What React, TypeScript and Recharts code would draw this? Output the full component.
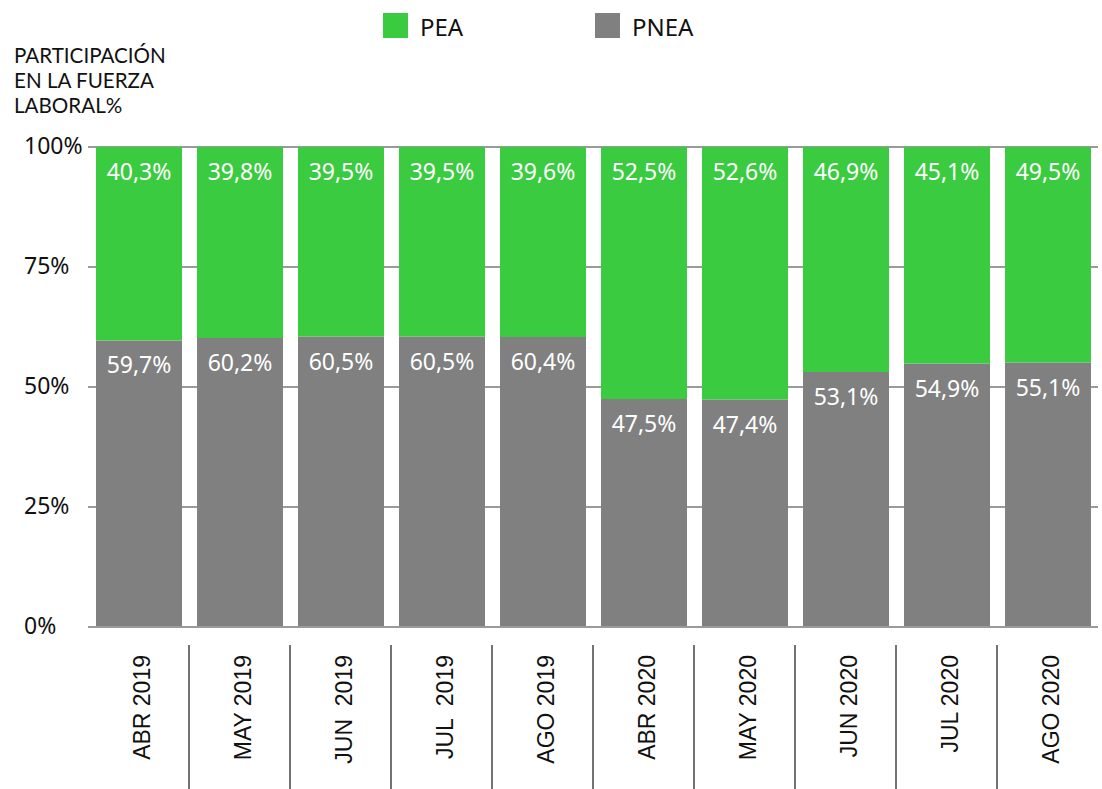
import React from 'react';
import { BarChart, Bar, XAxis, YAxis, CartesianGrid, LabelList, Legend } from 'recharts';

const categories = ['ABR 2019', 'MAY 2019', 'JUN  2019', 'JUL  2019', 'AGO 2019', 'ABR 2020', 'MAY 2020', 'JUN 2020', 'JUL 2020', 'AGO 2020'];
const pneaValues = [59.7, 60.2, 60.5, 60.5, 60.4, 47.5, 47.4, 53.1, 54.9, 55.1];
const peaValues = [40.3, 39.8, 39.5, 39.5, 39.6, 52.5, 52.6, 46.9, 45.1, 49.5];
const yTicks = [0, 25, 50, 75, 100];

const GREEN = '#3BCB41';
const GRAY = '#808080';
const W = 1102;
const H = 789;
const PLOT_TOP = 147;
const LEGEND_H = 50;
const PLOT_LEFT = 88;
const PLOT_RIGHT_MARGIN = 4;
const STEP = (W - PLOT_LEFT - PLOT_RIGHT_MARGIN) / categories.length;
const FONT = '"Noto Sans", sans-serif';

const data = categories.map((c, i) => ({ cat: c, pnea: pneaValues[i], pea: peaValues[i] }));

const fmt = (v: number) => v.toFixed(1).replace('.', ',') + '%';

const YTick = (props: any) => {
  const { y, payload } = props;
  return (
    <text x={24} y={y} dy="0.3em" fontSize={23} fontFamily={FONT} fill="#111">
      {payload.value}%
    </text>
  );
};

const XTick = (props: any) => {
  const { x, payload, index } = props;
  return (
    <g>
      <text
        transform={`translate(${x + 11},655) rotate(-90)`}
        textAnchor="end"
        fontSize={23}
        fontFamily='"Liberation Sans", Arial, sans-serif'
        fill="#111"
        style={{ whiteSpace: 'pre' }}
      >
        {payload.value}
      </text>
      {index < categories.length - 1 && (
        <line x1={x + STEP / 2} x2={x + STEP / 2} y1={645} y2={H} stroke="#444" strokeWidth={1.5} />
      )}
    </g>
  );
};

const BarLabel = (props: any) => {
  const { x, y, width, value } = props;
  const yy = Math.max(Number(y), PLOT_TOP);
  return (
    <text
      x={Number(x) + Number(width) / 2}
      y={yy + 25}
      dy="0.35em"
      textAnchor="middle"
      fill="#fff"
      fontSize={23}
      fontFamily={FONT}
    >
      {fmt(Number(value))}
    </text>
  );
};

const legendOrder = ['PEA', 'PNEA'];
const legendLeft: Record<string, number> = { PEA: 383, PNEA: 595 };

const LegendContent = (props: any) => {
  const payload = (props.payload || []).slice().sort(
    (a: any, b: any) => legendOrder.indexOf(a.value) - legendOrder.indexOf(b.value)
  );
  return (
    <div style={{ position: 'relative', width: W, height: LEGEND_H }}>
      {payload.map((p: any) => (
        <div key={p.value}>
          <div
            style={{
              position: 'absolute',
              left: legendLeft[p.value],
              top: 13,
              width: 25,
              height: 25,
              background: p.color,
            }}
          />
          <span
            style={{
              position: 'absolute',
              left: legendLeft[p.value] + 37,
              top: 10,
              fontFamily: FONT,
              fontSize: 24,
              lineHeight: 'normal',
              color: '#111',
            }}
          >
            {p.value}
          </span>
        </div>
      ))}
    </div>
  );
};

export default function App() {
  return (
    <div style={{ position: 'absolute', left: 0, top: 0, width: W, height: H, background: '#fff' }}>
      <div
        style={{
          position: 'absolute',
          left: 14,
          top: 43,
          fontFamily: 'Lato, sans-serif',
          fontSize: 20.6,
          lineHeight: '25px',
          color: '#111',
          zIndex: 2,
        }}
      >
        PARTICIPACIÓN
        <br />
        EN LA FUERZA
        <br />
        LABORAL%
      </div>
      <BarChart
        width={W}
        height={H}
        data={data}
        margin={{ top: PLOT_TOP - LEGEND_H, right: PLOT_RIGHT_MARGIN, left: 0, bottom: 0 }}
      >
        <CartesianGrid vertical={false} stroke="#9a9a9a" strokeWidth={2} />
        <XAxis
          dataKey="cat"
          height={H - 627}
          axisLine={{ stroke: '#9a9a9a', strokeWidth: 2 }}
          tickLine={false}
          interval={0}
          tick={<XTick />}
        />
        <YAxis
          width={PLOT_LEFT}
          domain={[0, 100]}
          ticks={yTicks}
          allowDataOverflow
          axisLine={false}
          tickLine={false}
          tick={<YTick />}
        />
        <Legend
          verticalAlign="top"
          content={<LegendContent />}
          wrapperStyle={{ position: 'absolute', top: 0, left: 0, width: W, height: LEGEND_H }}
        />
        <Bar dataKey="pnea" name="PNEA" stackId="a" fill={GRAY} barSize={86} isAnimationActive={false}>
          <LabelList dataKey="pnea" content={<BarLabel />} />
        </Bar>
        <Bar dataKey="pea" name="PEA" stackId="a" fill={GREEN} barSize={86} isAnimationActive={false}>
          <LabelList dataKey="pea" content={<BarLabel />} />
        </Bar>
      </BarChart>
    </div>
  );
}
